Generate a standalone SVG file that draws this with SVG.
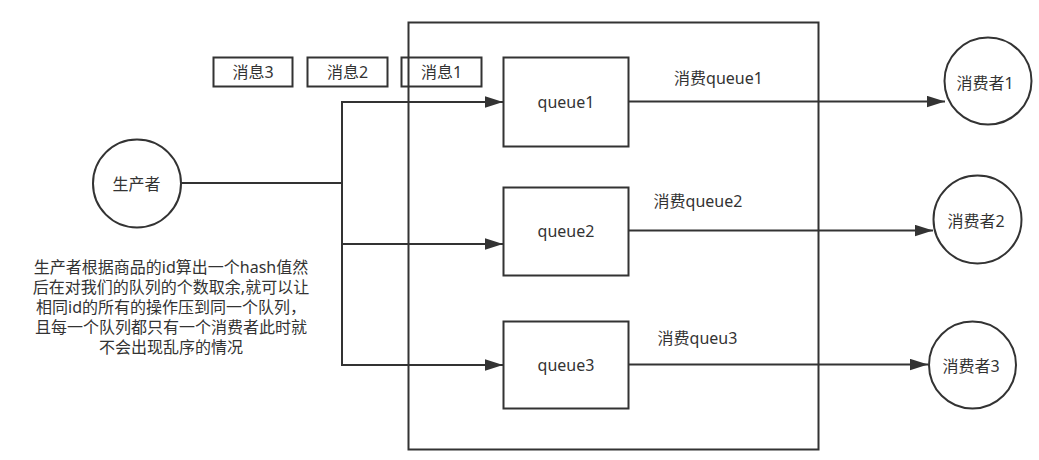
<svg xmlns="http://www.w3.org/2000/svg" width="1039" height="460" viewBox="0 0 1039 460">
<style>
.s{fill:none;stroke:#333;stroke-width:2}
.n{fill:#fff;stroke:#333;stroke-width:2}
.t{font-family:"Noto Sans","Noto Sans CJK SC",sans-serif;font-size:16px;fill:#333;text-anchor:middle;dominant-baseline:central}
.c{fill:none;stroke:#333;stroke-width:2;marker-end:url(#a)}
</style>
<defs>
<marker id="a" markerUnits="userSpaceOnUse" markerWidth="18" markerHeight="12" refX="18" refY="6" orient="auto">
<path d="M0,0.3 L18,6 L0,11.7 z" fill="#333"/>
</marker>
</defs>
<rect width="1039" height="460" fill="#fff"/>
<g id="container"><rect class="s" x="408.5" y="22.5" width="410" height="427"/></g>
<g id="msg3"><rect class="s" x="213.5" y="57.5" width="79" height="29"/><text class="t" x="253" y="72">消息3</text></g>
<g id="msg2"><rect class="s" x="307.5" y="57.5" width="80" height="29"/><text class="t" x="347.5" y="72">消息2</text></g>
<g id="msg1"><rect class="s" x="401.5" y="57.5" width="80" height="29"/><text class="t" x="441.5" y="72">消息1</text></g>
<g id="connectors">
<path class="s" d="M181,183 H342 M342,101.5 V365.5"/>
<path class="c" d="M341,102 H503"/>
<path class="c" d="M341,244 H503"/>
<path class="c" d="M341,365 H503"/>
<path class="c" d="M628,101.5 H945"/>
<path class="c" d="M628,230.5 H933"/>
<path class="c" d="M628,364.5 H928"/>
<text class="t" x="718.5" y="78">消费queue1</text>
<text class="t" x="698" y="201">消费queue2</text>
<text class="t" x="697.5" y="338">消费queu3</text>
</g>
<g id="producer"><circle class="n" cx="137" cy="183.5" r="44"/><text class="t" x="136.5" y="184">生产者</text></g>
<g id="queue1"><rect class="n" x="503.5" y="57.5" width="125" height="89"/><text class="t" x="566" y="102">queue1</text></g>
<g id="queue2"><rect class="n" x="503.5" y="187.5" width="125" height="88"/><text class="t" x="566" y="231">queue2</text></g>
<g id="queue3"><rect class="n" x="503.5" y="321.5" width="125" height="87"/><text class="t" x="566" y="365">queue3</text></g>
<g id="consumer1"><circle class="n" cx="988" cy="81" r="43.5"/><text class="t" x="985" y="83">消费者1</text></g>
<g id="consumer2"><circle class="n" cx="977.5" cy="219.5" r="44"/><text class="t" x="976" y="221">消费者2</text></g>
<g id="consumer3"><circle class="n" cx="972.5" cy="365" r="43.5"/><text class="t" x="971" y="366">消费者3</text></g>
<g id="note">
<text class="t" x="171" y="267">生产者根据商品的id算出一个hash值然</text>
<text class="t" x="171" y="287">后在对我们的队列的个数取余,就可以让</text>
<text class="t" x="171" y="307">相同id的所有的操作压到同一个队列，</text>
<text class="t" x="171" y="327">且每一个队列都只有一个消费者此时就</text>
<text class="t" x="171" y="347">不会出现乱序的情况</text>
</g>
</svg>
